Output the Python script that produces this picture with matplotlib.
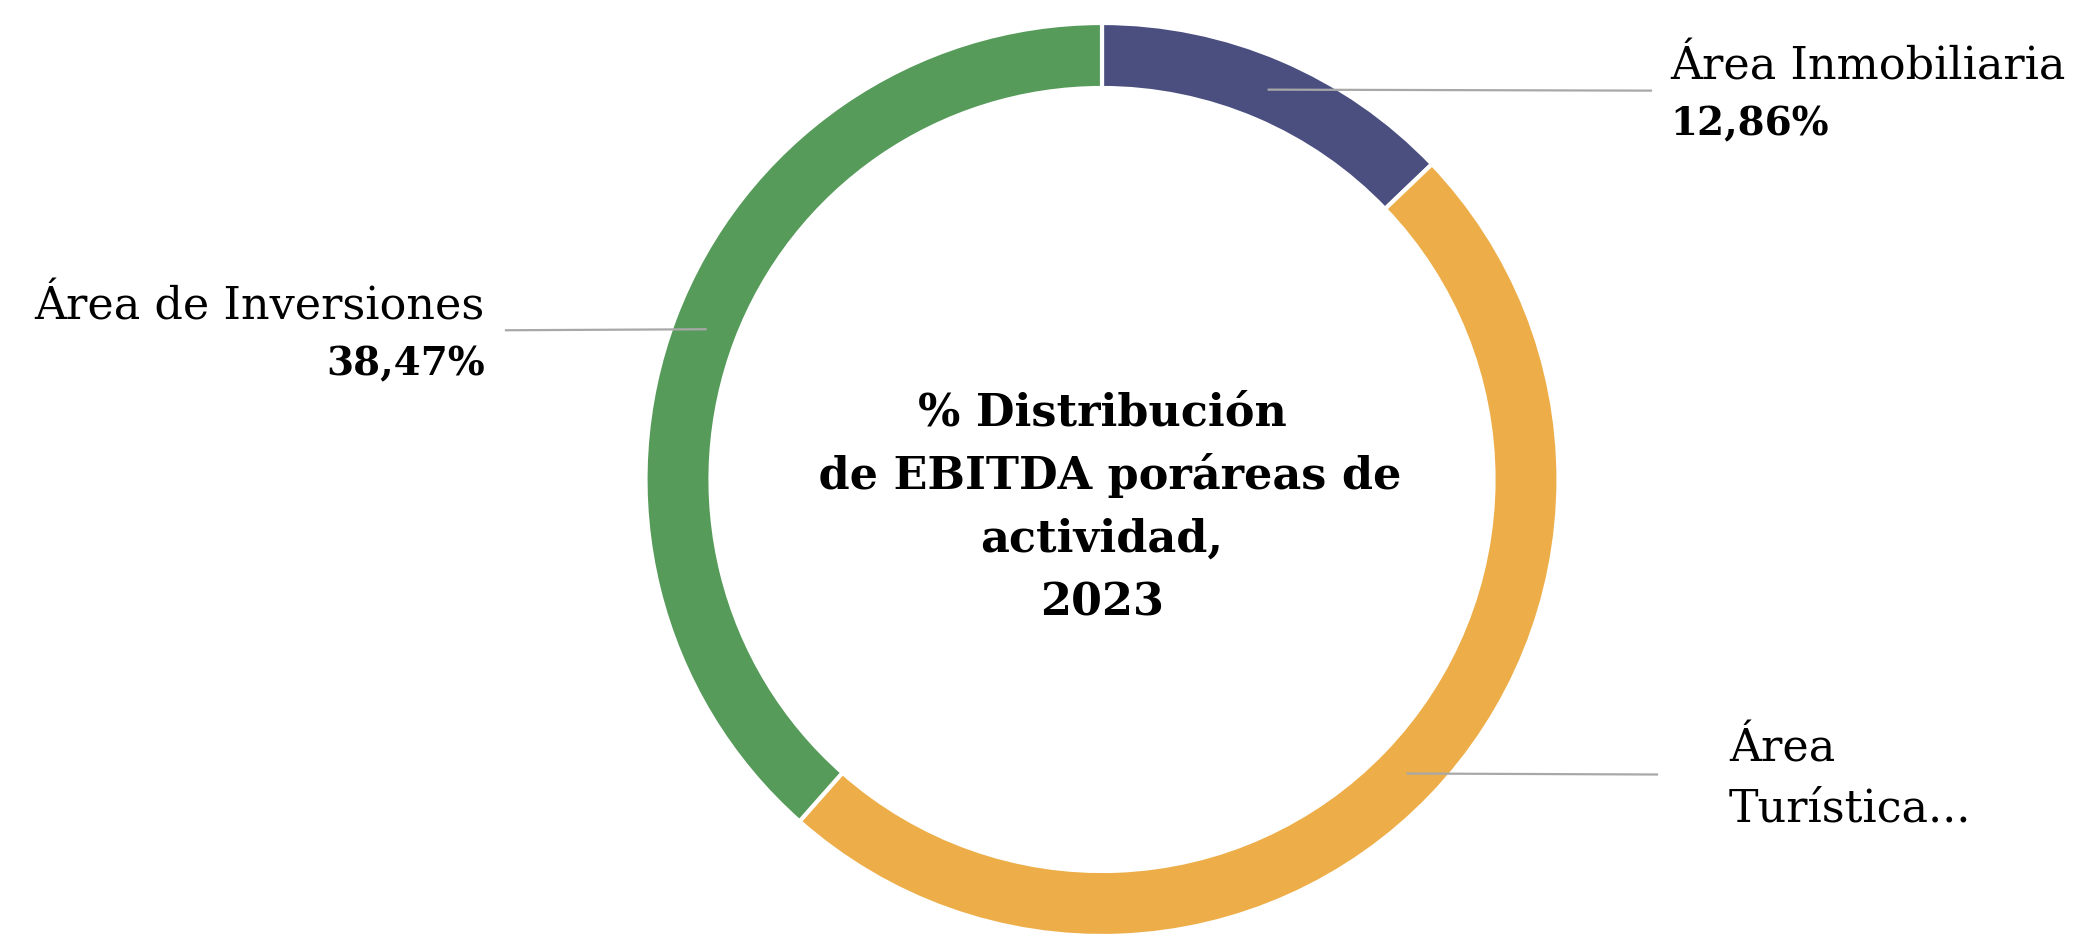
import numpy as np
import matplotlib
matplotlib.use("Agg")
import matplotlib.pyplot as plt

# data
areas = ["Área Inmobiliaria", "Área Turística", "Área de Inversiones"]
shares = [12.86, 48.67, 38.47]
colors = ["#4A4F80", "#EDAE49", "#569B59"]
shown_pct = ["12,86%", None, "38,47%"]
label_text = ["Área Inmobiliaria", "Área\nTurística...", "Área de Inversiones"]
title = "% Distribución\n de EBITDA poráreas de\nactividad,\n2023"

W, H = 2100, 951
cx, cy = 1102, H - 479.5
r_out, ring = 456.5, 65

serif = ["DejaVu Serif Condensed", "DejaVu Serif"]

fig = plt.figure(figsize=(W / 100, H / 100), dpi=100)
ax = fig.add_axes([0, 0, 1, 1])

wedges, _ = ax.pie(shares, colors=colors, startangle=90, counterclock=False,
                   center=(cx, cy), radius=r_out,
                   wedgeprops=dict(width=ring, edgecolor="white", linewidth=3))
ax.set_xlim(0, W)
ax.set_ylim(0, H)
ax.set_aspect("equal")
ax.axis("off")

# leader lines from the middle of each wedge, horizontal to the label
r_mid = r_out - ring / 2
line_end = [1651, 1657, 506]
for w, xe in zip(wedges, line_end):
    ang = np.deg2rad((w.theta1 + w.theta2) / 2)
    x0 = cx + r_mid * np.cos(ang)
    y0 = cy + r_mid * np.sin(ang)
    ax.plot([x0, xe], [y0, y0 - 1], color="#A8A8A8", lw=1.6, zorder=3)

# labels
ax.text(1670, H - 80, label_text[0], family=serif, fontsize=32, va="baseline", ha="left")
ax.text(1670, H - 135, shown_pct[0], family=serif, fontsize=28, fontweight="bold",
        va="baseline", ha="left")
ax.text(485, H - 319, label_text[2], family=serif, fontsize=32, va="baseline", ha="right")
ax.text(485, H - 375, shown_pct[2], family=serif, fontsize=28, fontweight="bold",
        va="baseline", ha="right")
ax.text(1729, H - 761, "Área", family=serif, fontsize=32, va="baseline", ha="left")
ax.text(1729, H - 821, "Turística...", family=serif, fontsize=32, va="baseline", ha="left")

# centre title
for i, line in enumerate(title.split("\n")):
    ax.text(cx, H - (426 + 63 * i), line, family=serif, fontsize=32,
            fontweight="bold", va="baseline", ha="center")

fig.savefig("out.png", dpi=100, facecolor="white")
